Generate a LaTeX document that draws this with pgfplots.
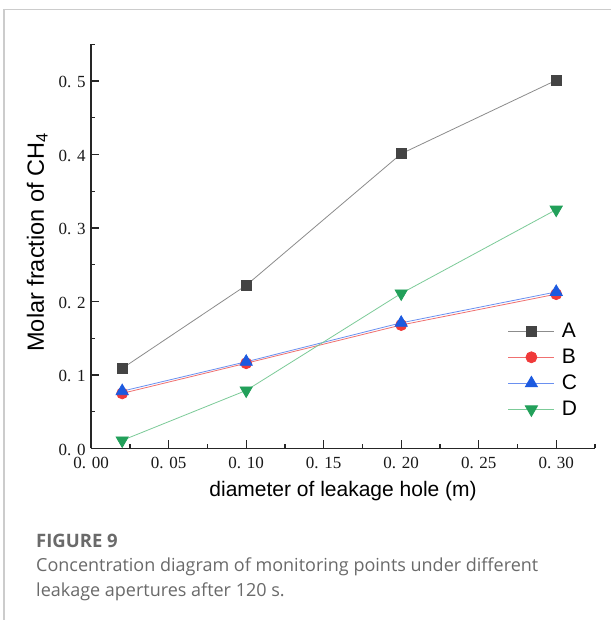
\documentclass[border=0pt]{standalone}
\usepackage{fontspec}
\setmainfont{Liberation Sans}
\newfontfamily\tickfont{Liberation Serif}
\newfontfamily\capfont{Open Sans}
\usepackage{pgfplots}
\pgfplotsset{compat=1.18}
\definecolor{cA}{HTML}{444444}
\definecolor{cAl}{HTML}{8C8C8C}
\definecolor{cB}{HTML}{F03A3A}
\definecolor{cBl}{HTML}{F07070}
\definecolor{cC}{HTML}{1C5AE0}
\definecolor{cCl}{HTML}{6A90F0}
\definecolor{cD}{HTML}{22A05A}
\definecolor{cDl}{HTML}{7CCB98}
\definecolor{framec}{HTML}{CCCCCC}
\definecolor{capgray}{HTML}{6A6A6A}
\begin{document}
\begin{tikzpicture}[x=1pt,y=1pt]
\useasboundingbox (0,0) rectangle (611,620);
\fill[white] (0,0) rectangle (611,620);
\draw[framec, line width=1.2pt] (4,0) -- (4,610.5) -- (611,610.5);
\begin{axis}[
  at={(91.2pt,171.5pt)}, anchor=south west,
  scale only axis, width=503.75pt, height=404.25pt,
  xmin=0, xmax=0.325, ymin=0, ymax=0.55,
  axis x line*=bottom, axis y line*=left,
  axis line style={-, line width=1.6pt, black!85},
  xtick={0,0.05,0.1,0.15,0.2,0.25,0.3},
  xticklabels={0. 00,0. 05,0. 10,0. 15,0. 20,0. 25,0. 30},
  ytick={0,0.1,0.2,0.3,0.4,0.5},
  yticklabels={0. 0,0. 1,0. 2,0. 3,0. 4,0. 5},
  minor xtick={0.025,0.075,0.125,0.175,0.225,0.275,0.325},
  minor ytick={0.05,0.15,0.25,0.35,0.45,0.55},
  major tick length=8pt, minor tick length=4pt,
  tick style={line width=1.3pt, black!85},
  tick align=inside,
  ticklabel style={font=\tickfont\fontsize{17}{20}\selectfont, text=black!90},
  xticklabel style={yshift=-5pt},
  yticklabel style={xshift=-2pt, yshift=-1pt},
  xlabel={diameter of leakage hole (m)},
  ylabel={Molar fraction of CH\textsubscript{4}},
  xlabel style={font=\fontsize{21}{25}\selectfont, at={(axis description cs:0.5,-0.105)}, anchor=center},
  ylabel style={font=\fontsize{23.5}{27}\selectfont, at={(axis description cs:-0.107,0.51)}, anchor=center},
  clip=false,
  legend style={draw=none, fill=none, at={(axis description cs:0.827,0.315)}, anchor=north west,
    font=\fontsize{21}{25}\selectfont, row sep=6pt, column sep=5pt, inner sep=0pt},
  legend cell align=left,
  legend image code/.code={\draw[mark repeat=2, mark phase=2] plot coordinates {(0pt,0pt) (23pt,0pt) (46pt,0pt)};},
]
\addplot[cAl, line width=0.8pt, mark=square*, mark size=5pt, mark options={cA, fill=cA, solid}]
  coordinates {(0.02,0.109) (0.10,0.222) (0.20,0.401) (0.30,0.501)};
\addlegendentry{A}
\addplot[cBl, line width=0.8pt, mark=*, mark size=5.5pt, mark options={cB, fill=cB, solid}]
  coordinates {(0.02,0.075) (0.10,0.116) (0.20,0.168) (0.30,0.210)};
\addlegendentry{B}
\addplot[cCl, line width=0.8pt, mark=triangle*, mark size=7pt, mark options={cC, fill=cC, solid}]
  coordinates {(0.02,0.078) (0.10,0.118) (0.20,0.171) (0.30,0.213)};
\addlegendentry{C}
\addplot[cDl, line width=0.8pt, mark=triangle*, mark size=7pt, mark options={cD, fill=cD, solid, rotate=180}]
  coordinates {(0.02,0.011) (0.10,0.079) (0.20,0.211) (0.30,0.325)};
\addlegendentry{D}
\end{axis}
\node[anchor=base west, inner sep=0pt, font=\capfont\bfseries\fontsize{18.5}{20}\selectfont, text=capgray] at (36,72) {FIGURE 9};
\node[anchor=base west, inner sep=0pt, font=\capfont\fontsize{18}{20}\selectfont, text=capgray] at (36,48) {Concentration diagram of monitoring points under different};
\node[anchor=base west, inner sep=0pt, font=\capfont\fontsize{18}{20}\selectfont, text=capgray] at (36,23) {leakage apertures after 120 s.};
\end{tikzpicture}
\end{document}
